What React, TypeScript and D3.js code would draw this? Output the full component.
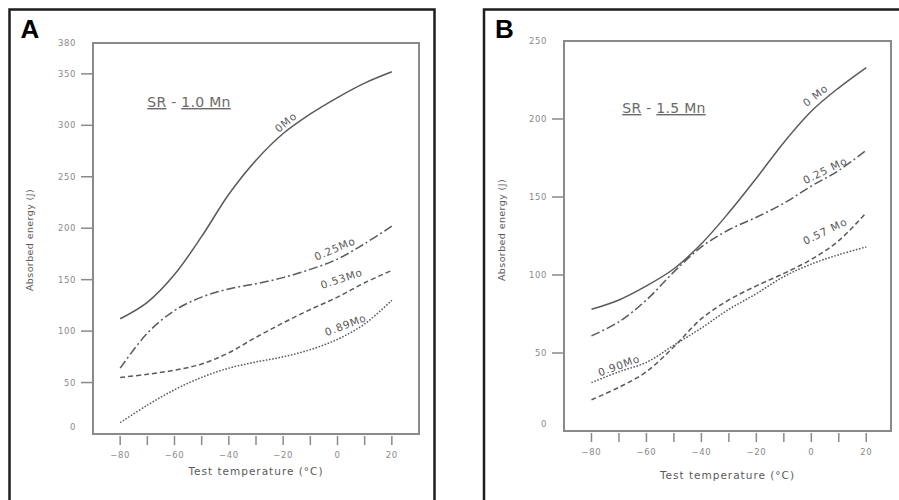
import React from 'react';
import * as d3 from 'd3';

// test temperatures (°C) where the curves were read
const temps = [-80, -70, -60, -50, -40, -30, -20, -10, 0, 10, 20];

// panel A: SR-1.0Mn, absorbed energy (J)
const a0Mo = [112, 128, 155, 192, 233, 266, 292, 311, 327, 341, 352];
const a025Mo = [64, 98, 120, 133, 141, 146, 152, 160, 170, 185, 202];
const a053Mo = [55, 58, 62, 68, 79, 94, 108, 121, 133, 147, 159];
const a089Mo = [11, 28, 43, 55, 64, 70, 75, 82, 92, 107, 130];

// panel B: SR-1.5Mn, absorbed energy (J)
const b0Mo = [78, 84, 93, 104, 120, 140, 162, 185, 205, 220, 233];
const b025Mo = [61, 70, 84, 102, 118, 129, 137, 146, 157, 167, 180];
const b057Mo = [20, 28, 38, 54, 72, 84, 93, 101, 110, 122, 140];
const b090Mo = [31, 38, 44, 55, 66, 78, 88, 99, 107, 113, 118];

const xTicks = [-80, -70, -60, -50, -40, -30, -20, -10, 0, 10, 20];
const xLabelTicks = [-80, -60, -40, -20, 0, 20];
const aYTicks = [0, 50, 100, 150, 200, 250, 300, 350, 380];
const bYTicks = [0, 50, 100, 150, 200, 250];

const DASH: Record<string, string> = {
  solid: '',
  dashdot: '9,3,2,3',
  dashed: '5,3',
  dotted: '1.6,1.6',
};

const INK = '#5a5a5a';
const GREY = '#8a8a8a';

type Series = { values: number[]; dash: string };
type CurveLabel = { text: string; t: number; e: number; rot: number };

interface PanelProps {
  frameX: number;
  frameW: number;
  letter: string;
  box: { l: number; r: number; t: number; b: number };
  xDomain: [number, number];
  yMax: number;
  yTicks: number[];
  series: Series[];
  labels: CurveLabel[];
  title: [string, string, string];
  titleAt: [number, number];
  yTitleX: number;
  yTitleY: number;
  xTitleY: number;
}

const Panel = (p: PanelProps) => {
  const x = d3.scaleLinear().domain(p.xDomain).range([p.box.l, p.box.r]);
  const y = d3.scaleLinear().domain([0, p.yMax]).range([p.box.b, p.box.t]);
  const line = d3
    .line<number>()
    .curve(d3.curveCatmullRom.alpha(0.5))
    .x((_, i) => x(temps[i]))
    .y((d) => y(d));
  const midX = (p.box.l + p.box.r) / 2;

  return (
    <g>
      <rect x={p.frameX} y={9.5} width={p.frameW} height={520} fill="none" stroke="#1e1e1e" strokeWidth={2.5} />
      <text x={p.frameX + 11} y={38} fontFamily="Liberation Sans, Arial, sans-serif" fontWeight="bold" fontSize={26} fill="#000">
        {p.letter}
      </text>

      {/* plot box */}
      <rect x={p.box.l} y={p.box.t} width={p.box.r - p.box.l} height={p.box.b - p.box.t} fill="none" stroke={GREY} strokeWidth={2} />

      {/* y ticks */}
      {p.yTicks.map((v) => (
        <g key={'y' + v}>
          {v !== 0 && v !== p.yMax && (
            <line x1={p.box.l - 12} x2={p.box.l} y1={y(v)} y2={y(v)} stroke={GREY} strokeWidth={1.5} />
          )}
          <text
            x={p.box.l - 17}
            y={y(v) - (v === 0 ? 7 : 0)}
            dy="0.35em"
            textAnchor="end"
            fontFamily="DejaVu Sans, sans-serif"
            fontSize={8.5}
            letterSpacing={0.6}
            fill={GREY}
          >
            {v}
          </text>
        </g>
      ))}

      {/* x ticks */}
      {xTicks.map((v) => (
        <line key={'x' + v} x1={x(v)} x2={x(v)} y1={p.box.b + 2} y2={p.box.b + 11} stroke={GREY} strokeWidth={1.5} />
      ))}
      {xLabelTicks.map((v) => (
        <text
          key={'xl' + v}
          x={x(v)}
          y={p.box.b + 24}
          textAnchor="middle"
          fontFamily="DejaVu Sans, sans-serif"
          fontSize={8.5}
          letterSpacing={0.6}
          fill={GREY}
        >
          {v < 0 ? '\u2212' + Math.abs(v) : v}
        </text>
      ))}

      {/* axis titles */}
      <text x={midX} y={p.xTitleY} textAnchor="middle" fontFamily="DejaVu Sans, sans-serif" fontSize={10.5} letterSpacing={1} fill={INK}>
        Test temperature (°C)
      </text>
      <text
        transform={`translate(${p.yTitleX},${p.yTitleY}) rotate(-90)`}
        textAnchor="middle"
        fontFamily="DejaVu Sans, sans-serif"
        fontSize={9.5}
        letterSpacing={0.4}
        fill={INK}
      >
        Absorbed energy (J)
      </text>

      {/* panel title */}
      <text x={p.titleAt[0]} y={p.titleAt[1]} textAnchor="middle" fontFamily="DejaVu Sans, sans-serif" fontSize={14} letterSpacing={0.3} fill="#6a6a6a">
        <tspan textDecoration="underline">{p.title[0]}</tspan>
        <tspan>{p.title[1]}</tspan>
        <tspan textDecoration="underline">{p.title[2]}</tspan>
      </text>

      {/* curves */}
      {p.series.map((s, i) => (
        <path key={'s' + i} d={line(s.values) || ''} fill="none" stroke={INK} strokeWidth={1.5} strokeDasharray={DASH[s.dash]} />
      ))}

      {p.labels.map((l) => (
        <text
          key={l.text}
          transform={`translate(${x(l.t)},${y(l.e)}) rotate(${l.rot})`}
          textAnchor="middle"
          dy="0.35em"
          fontFamily="DejaVu Sans, sans-serif"
          fontSize={10.5}
          letterSpacing={0.8}
          fill={INK}
        >
          {l.text}
        </text>
      ))}
    </g>
  );
};

export default function App() {
  return (
    <svg width={899} height={500} style={{ position: 'absolute', left: 0, top: 0, background: '#fff' }}>
      <rect width={899} height={500} fill="#fff" />
      <Panel
        frameX={9.5}
        frameW={425}
        letter="A"
        box={{ l: 93, r: 419, t: 43, b: 434 }}
        xDomain={[-90, 30]}
        yMax={380}
        yTicks={aYTicks}
        series={[
          { values: a0Mo, dash: 'solid' },
          { values: a025Mo, dash: 'dashdot' },
          { values: a053Mo, dash: 'dashed' },
          { values: a089Mo, dash: 'dotted' },
        ]}
        labels={[
          { text: '0Mo', t: -19, e: 303, rot: -40 },
          { text: '0.25Mo', t: -1, e: 180, rot: -23 },
          { text: '0.53Mo', t: 1.5, e: 151, rot: -18 },
          { text: '0.89Mo', t: 3, e: 106, rot: -21 },
        ]}
        title={['SR', ' - ', '1.0 Mn']}
        titleAt={[189, 107]}
        yTitleX={33}
        yTitleY={240}
        xTitleY={475}
      />
      <Panel
        frameX={484}
        frameW={430}
        letter="B"
        box={{ l: 564, r: 891, t: 41, b: 431 }}
        xDomain={[-90, 29]}
        yMax={250}
        yTicks={bYTicks}
        series={[
          { values: b0Mo, dash: 'solid' },
          { values: b025Mo, dash: 'dashdot' },
          { values: b057Mo, dash: 'dashed' },
          { values: b090Mo, dash: 'dotted' },
        ]}
        labels={[
          { text: '0 Mo', t: 1.5, e: 215, rot: -38 },
          { text: '0.25 Mo', t: 5, e: 167, rot: -26 },
          { text: '0.57 Mo', t: 5, e: 128, rot: -26 },
          { text: '0.90Mo', t: -70, e: 42, rot: -20 },
        ]}
        title={['SR', ' - ', '1.5 Mn']}
        titleAt={[664, 113]}
        yTitleX={505}
        yTitleY={230}
        xTitleY={479}
      />
    </svg>
  );
}
